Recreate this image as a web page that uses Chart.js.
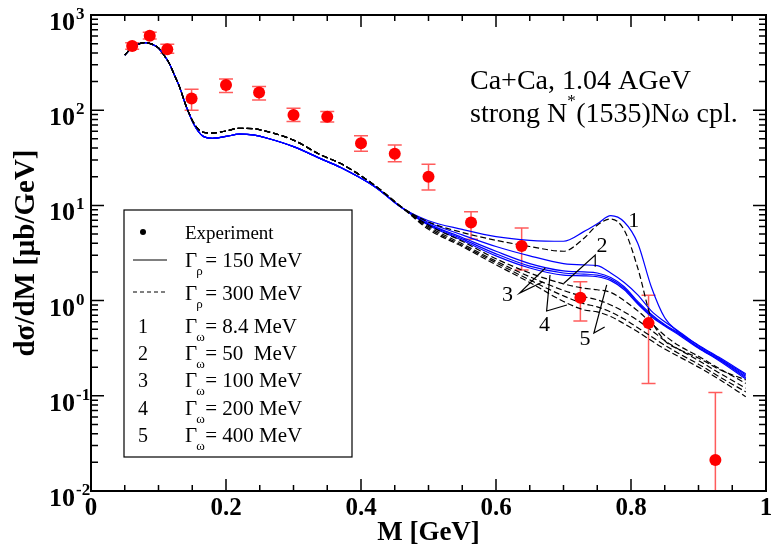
<!DOCTYPE html>
<html>
<head>
<meta charset="utf-8">
<script src="https://cdn.jsdelivr.net/npm/chart.js@4.4.1/dist/chart.umd.min.js"></script>
<style>
html, body { margin: 0; padding: 0; background: #fff; }
</style>
</head>
<body>
<canvas id="c" width="772" height="550"></canvas>
<script>
// Experiment (Ca+Ca, 1.04 AGeV)
const expM  = [0.061, 0.087, 0.113, 0.149, 0.2, 0.249, 0.3, 0.35, 0.4, 0.45, 0.5, 0.563, 0.638, 0.725, 0.826, 0.925];
const expY  = [472, 607, 436, 133, 184, 153, 89, 85.5, 44.9, 34.9, 20, 6.6, 3.75, 1.07, 0.58, 0.0212];
const expHi = [512, 658, 492, 166, 213, 177, 105, 97, 54, 43, 27, 8.6, 5.8, 1.58, 1.14, 0.108];
const expLo = [436, 560, 396, 100, 153, 128, 76, 75, 37, 28.8, 14.5, 4.4, 2.1, 0.61, 0.135, 0.005];

// common low-mass part of the curves
const xEarly = [0.05, 0.062, 0.072, 0.08, 0.09, 0.1, 0.108, 0.116, 0.124, 0.131, 0.141, 0.153, 0.165, 0.18, 0.2, 0.22, 0.24, 0.26, 0.3, 0.34, 0.37, 0.42, 0.46];
const rho150Early = [380, 465, 500, 512, 495, 450, 380, 310, 230, 177, 110, 70, 54, 50.7, 53, 56, 55, 51, 41.4, 31, 25, 15.8, 9.5];
const rho300Early = [380, 465, 500, 512, 495, 450, 380, 310, 230, 177, 110, 72, 59, 57.5, 60.5, 64.5, 64, 60, 48.5, 34, 27.5, 16.3, 9.6];

// omega region, one array per width
const xLate = [0.5, 0.55, 0.6, 0.65, 0.7, 0.73, 0.75, 0.77, 0.79, 0.81, 0.83, 0.85, 0.87, 0.9, 0.93, 0.97];
const rho150w1 = [6.9, 5.6, 4.7, 4.3, 4.2, 5.3, 6.4, 7.8, 6.7, 4.0, 1.4, 0.66, 0.47, 0.34, 0.255, 0.17];
const rho150w2 = [6.6, 4.9, 3.7, 2.95, 2.45, 2.37, 2.33, 1.95, 1.55, 1.15, 0.78, 0.6, 0.48, 0.335, 0.25, 0.165];
const rho150w3 = [6.4, 4.6, 3.3, 2.45, 2.05, 2.0, 1.95, 1.75, 1.4, 0.98, 0.72, 0.56, 0.46, 0.325, 0.245, 0.16];
const rho150w4 = [6.3, 4.45, 3.1, 2.3, 1.95, 1.9, 1.85, 1.68, 1.35, 0.95, 0.7, 0.55, 0.45, 0.32, 0.24, 0.155];
const rho150w5 = [6.2, 4.3, 2.95, 2.2, 1.85, 1.82, 1.78, 1.62, 1.3, 0.92, 0.68, 0.54, 0.44, 0.315, 0.235, 0.15];
const rho300w1 = [6.7, 5.2, 4.3, 3.7, 3.3, 4.5, 6.2, 7.2, 5.5, 2.2, 0.65, 0.38, 0.31, 0.25, 0.19, 0.147];
const rho300w2 = [6.2, 4.2, 2.75, 1.95, 1.5, 1.35, 1.3, 1.22, 1.0, 0.78, 0.58, 0.43, 0.34, 0.26, 0.195, 0.135];
const rho300w3 = [6.0, 3.95, 2.6, 1.78, 1.28, 1.1, 1.02, 0.9, 0.76, 0.62, 0.49, 0.38, 0.31, 0.235, 0.175, 0.12];
const rho300w4 = [5.8, 3.8, 2.5, 1.65, 1.12, 0.93, 0.86, 0.76, 0.64, 0.52, 0.42, 0.34, 0.28, 0.215, 0.16, 0.11];
const rho300w5 = [5.6, 3.7, 2.38, 1.55, 0.98, 0.8, 0.76, 0.68, 0.57, 0.47, 0.38, 0.31, 0.26, 0.2, 0.15, 0.098];

const xTicks = [0, 0.2, 0.4, 0.6, 0.8, 1];
const xTickLabels = ['0', '0.2', '0.4', '0.6', '0.8', '1'];
const yExps = [-2, -1, 0, 1, 2, 3];

// curve labels 1..5 and their pointer lines (data coords)
const labelText = ['1', '2', '3', '4', '5'];
const labelM = [0.804, 0.757, 0.617, 0.672, 0.732];
const labelY = [6.86, 3.75, 1.15, 0.555, 0.395];
const pointerM = [[], [0.7006, 0.747, 0.747], [0.673, 0.635, 0.669], [0.680, 0.675, 0.705], [0.764, 0.745, 0.761]];
const pointerY = [[], [1.52, 3.01, 2.27], [2.2, 1.2, 1.57], [1.86, 0.778, 0.9], [1.46, 0.457, 0.528]];

const serif = '"Liberation Serif", "Times New Roman", serif';

function pts(xs, ys) {
    return xs.map(function(v, i){ return {x: v, y: ys[i]}; });
}

function curve(early, late, color, dash) {
    return {
        data: pts(xEarly.concat(xLate), early.concat(late)),
        borderColor: color,
        borderWidth: 1.2,
        borderDash: dash,
        pointRadius: 0,
        cubicInterpolationMode: 'monotone',
        fill: false,
        order: dash.length ? 1 : 2
    };
}

const errorBars = {
    id: 'errorBars',
    beforeDatasetsDraw(chart) {
        const {ctx, chartArea: a, scales: {x, y}} = chart;
        ctx.save();
        ctx.beginPath();
        ctx.rect(a.left, a.top, a.right - a.left, a.bottom - a.top);
        ctx.clip();
        ctx.strokeStyle = '#ff5c5c';
        ctx.lineWidth = 1.5;
        expM.forEach(function(m, i){
            const px = x.getPixelForValue(m);
            const top = y.getPixelForValue(expHi[i]);
            const bot = y.getPixelForValue(expLo[i]);
            ctx.beginPath();
            ctx.moveTo(px, top); ctx.lineTo(px, bot);
            ctx.moveTo(px - 7, top); ctx.lineTo(px + 7, top);
            ctx.moveTo(px - 7, bot); ctx.lineTo(px + 7, bot);
            ctx.stroke();
        });
        ctx.restore();
    }
};

function gammaText(ctx, x, y, sub, rest) {
    ctx.font = '21px ' + serif;
    ctx.fillText('\u0393', x, y);
    const w = ctx.measureText('\u0393').width;
    ctx.font = '13px ' + serif;
    ctx.fillText(sub, x + w - 1, y + 8);
    ctx.font = '21px ' + serif;
    ctx.fillText(rest, x + w + 8, y);
}

const frame = {
    id: 'frame',
    afterDraw(chart) {
        const {ctx, chartArea: a, scales: {x, y}} = chart;
        ctx.save();
        ctx.strokeStyle = '#000';
        ctx.fillStyle = '#000';

        // tick marks on all four sides
        ctx.lineWidth = 1.5;
        ctx.beginPath();
        for (let i = 0; i <= 20; i++) {
            const px = x.getPixelForValue(i * 0.05);
            const len = i % 4 === 0 ? 12 : 6;
            ctx.moveTo(px, a.bottom); ctx.lineTo(px, a.bottom - len);
            ctx.moveTo(px, a.top); ctx.lineTo(px, a.top + len);
        }
        yExps.forEach(function(e){
            for (let m = 1; m <= 9; m++) {
                if (e === 3 && m > 1) break;
                const py = y.getPixelForValue(m * Math.pow(10, e));
                const len = m === 1 ? 13 : 7;
                ctx.moveTo(a.left, py); ctx.lineTo(a.left + len, py);
                ctx.moveTo(a.right, py); ctx.lineTo(a.right - len, py);
            }
        });
        ctx.stroke();
        ctx.lineWidth = 2;
        ctx.strokeRect(a.left, a.top, a.right - a.left, a.bottom - a.top);

        // tick labels
        ctx.font = 'bold 25px ' + serif;
        ctx.textAlign = 'center';
        xTicks.forEach(function(v, i){
            ctx.fillText(xTickLabels[i], x.getPixelForValue(v), a.bottom + 24);
        });
        yExps.forEach(function(e){
            const py = y.getPixelForValue(Math.pow(10, e));
            ctx.font = 'bold 26px ' + serif;
            ctx.textAlign = 'right';
            ctx.fillText('10', a.left - 16, py + 15);
            ctx.font = 'bold 17px ' + serif;
            ctx.textAlign = 'left';
            ctx.fillText(String(e), a.left - 15, py + 4);
        });

        // axis titles
        ctx.font = 'bold 27px ' + serif;
        ctx.textAlign = 'center';
        ctx.fillText('M [GeV]', (a.left + a.right) / 2, 540);
        ctx.save();
        ctx.font = 'bold 29px ' + serif;
        ctx.translate(34, (a.top + a.bottom) / 2);
        ctx.rotate(-Math.PI / 2);
        ctx.fillText('d\u03c3/dM [\u03bcb/GeV]', 0, 0);
        ctx.restore();

        // header text
        ctx.textAlign = 'left';
        ctx.font = '28px ' + serif;
        ctx.fillText('Ca+Ca, 1.04 AGeV', 470, 89);
        ctx.fillText('strong N', 470, 122);
        let w = ctx.measureText('strong N').width;
        ctx.font = '17px ' + serif;
        ctx.fillText('*', 470 + w, 106);
        ctx.font = '28px ' + serif;
        ctx.fillText('(1535)N\u03c9 cpl.', 470 + w + 9, 122);

        // legend box
        ctx.lineWidth = 1.2;
        ctx.strokeRect(124, 210, 228, 247);
        ctx.beginPath();
        ctx.arc(143, 232, 3, 0, Math.PI * 2);
        ctx.fill();
        ctx.font = '19px ' + serif;
        ctx.fillText('Experiment', 185, 239);
        ctx.lineWidth = 1;
        ctx.beginPath();
        ctx.moveTo(133, 260); ctx.lineTo(167, 260);
        ctx.stroke();
        ctx.setLineDash([4, 3]);
        ctx.beginPath();
        ctx.moveTo(133, 292); ctx.lineTo(167, 292);
        ctx.stroke();
        ctx.setLineDash([]);
        gammaText(ctx, 185, 267, '\u03c1', '= 150 MeV');
        gammaText(ctx, 185, 300, '\u03c1', '= 300 MeV');
        const widths = ['= 8.4 MeV', '= 50\u2002MeV', '= 100 MeV', '= 200 MeV', '= 400 MeV'];
        widths.forEach(function(t, i){
            const yy = 333 + i * 27.2;
            ctx.font = '20px ' + serif;
            ctx.textAlign = 'center';
            ctx.fillText(String(i + 1), 143, yy);
            ctx.textAlign = 'left';
            gammaText(ctx, 185, yy, '\u03c9', t);
        });

        // curve labels and pointers
        ctx.font = '22px ' + serif;
        ctx.textAlign = 'center';
        ctx.textBaseline = 'middle';
        labelText.forEach(function(t, i){
            ctx.fillText(t, x.getPixelForValue(labelM[i]), y.getPixelForValue(labelY[i]));
            if (pointerM[i].length) {
                ctx.beginPath();
                pointerM[i].forEach(function(m, j){
                    const px = x.getPixelForValue(m);
                    const py = y.getPixelForValue(pointerY[i][j]);
                    if (j === 0) ctx.moveTo(px, py); else ctx.lineTo(px, py);
                });
                ctx.lineWidth = 1.2;
                ctx.stroke();
            }
        });
        ctx.restore();
    }
};

const datasets = [{
    data: pts(expM, expY),
    showLine: false,
    pointRadius: 6,
    pointBackgroundColor: '#ff0000',
    pointBorderWidth: 0,
    order: 0
}];
[rho300w1, rho300w2, rho300w3, rho300w4, rho300w5].forEach(function(s){
    datasets.push(curve(rho300Early, s, '#000000', [6, 3]));
});
[rho150w1, rho150w2, rho150w3, rho150w4, rho150w5].forEach(function(s){
    datasets.push(curve(rho150Early, s, '#0000ff', []));
});

new Chart(document.getElementById('c'), {
    type: 'line',
    data: { datasets: datasets },
    options: {
        responsive: false,
        animation: false,
        devicePixelRatio: 1,
        layout: { padding: { top: 15, right: 2, left: 0, bottom: 0 } },
        plugins: { legend: { display: false }, tooltip: { enabled: false } },
        scales: {
            x: {
                type: 'linear', min: 0, max: 1,
                grid: { display: false }, border: { display: false },
                ticks: { display: false },
                afterFit: function(s){ s.height = 59; }
            },
            y: {
                type: 'logarithmic', min: 0.01, max: 1000,
                grid: { display: false }, border: { display: false },
                ticks: { display: false },
                afterFit: function(s){ s.width = 91; }
            }
        }
    },
    plugins: [errorBars, frame]
});
</script>
</body>
</html>
